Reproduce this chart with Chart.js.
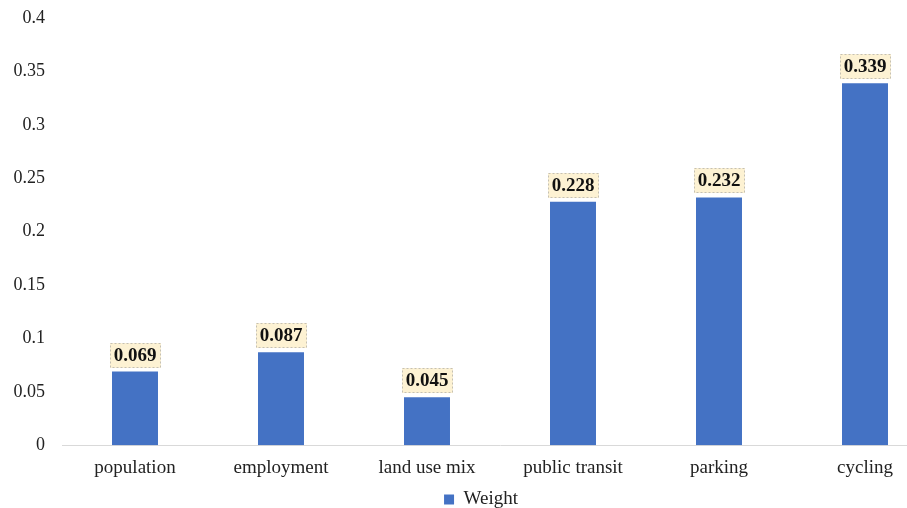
<!DOCTYPE html>
<html lang="en">
<head>
    <meta charset="UTF-8">
    <title>Weight Chart</title>
    <script src="https://cdn.jsdelivr.net/npm/chart.js"></script>
    <style>
        html, body { margin: 0; padding: 0; background: #fff; overflow: hidden; }
        #wrap { width: 960px; height: 508px; }
    </style>
</head>
<body>
    <div id="wrap">
        <canvas id="weightChart" width="960" height="508"></canvas>
    </div>

    <script>
        // data
        const categories = ['population', 'employment', 'land use mix', 'public transit', 'parking', 'cycling'];
        const weights = [0.069, 0.087, 0.045, 0.228, 0.232, 0.339];
        const seriesName = 'Weight';

        const serif = "'Liberation Serif', 'Times New Roman', serif";

        // boxed value labels above each bar
        const valueBoxes = {
            id: 'valueBoxes',
            beforeDraw(chart) {
                // nudge the legend a bit to the right, like the original
                const lg = chart.legend;
                if (lg && !lg._nudged) {
                    const orig = lg.draw.bind(lg);
                    lg.draw = function(area) {
                        chart.ctx.save();
                        chart.ctx.translate(12, 0);
                        orig(area);
                        chart.ctx.restore();
                    };
                    lg._nudged = true;
                }
            },
            afterDatasetsDraw(chart) {
                const ctx = chart.ctx;
                const meta = chart.getDatasetMeta(0);
                ctx.save();
                ctx.font = 'bold 19px ' + serif;
                ctx.textAlign = 'center';
                ctx.textBaseline = 'middle';
                meta.data.forEach(function(bar, i) {
                    const txt = weights[i].toFixed(3);
                    const w = Math.round(ctx.measureText(txt).width) + 8;
                    const h = 25;
                    const x = Math.round(bar.x - w / 2);
                    const y = Math.round(bar.y) - 4 - h;
                    ctx.fillStyle = '#fdf2d3';
                    ctx.fillRect(x, y, w, h);
                    ctx.setLineDash([2, 2]);
                    ctx.strokeStyle = '#c4c0b4';
                    ctx.lineWidth = 1;
                    ctx.strokeRect(x + 0.5, y + 0.5, w - 1, h - 1);
                    ctx.fillStyle = '#111';
                    ctx.fillText(txt, bar.x, y + h / 2 + 1);
                });
                ctx.restore();
            }
        };

        const ctx = document.getElementById('weightChart').getContext('2d');
        const chart = new Chart(ctx, {
            type: 'bar',
            data: {
                labels: categories,
                datasets: [{
                    label: seriesName,
                    data: weights,
                    backgroundColor: '#4472c4',
                    borderWidth: 0,
                    barPercentage: 0.315,
                    categoryPercentage: 1.0
                }]
            },
            options: {
                responsive: false,
                animation: false,
                layout: { padding: { top: 18, right: 22, bottom: -11, left: 0 } },
                plugins: {
                    legend: {
                        position: 'bottom',
                        labels: {
                            boxWidth: 10,
                            boxHeight: 10,
                            padding: 0,
                            color: '#222',
                            font: { family: serif, size: 19 }
                        }
                    },
                    tooltip: { enabled: false }
                },
                scales: {
                    x: {
                        grid: { display: false, drawTicks: false },
                        border: { display: true, color: '#d9d9d9', width: 1 },
                        ticks: {
                            color: '#222',
                            padding: 11,
                            maxRotation: 0,
                            font: { family: serif, size: 19 }
                        }
                    },
                    y: {
                        min: 0,
                        max: 0.4,
                        afterFit(axis) {
                            axis.width = 62;
                            axis.paddingTop = 0;
                            axis.paddingBottom = 0;
                        },
                        grid: { display: false, drawTicks: false },
                        border: { display: false },
                        ticks: {
                            stepSize: 0.05,
                            padding: 17,
                            color: '#222',
                            font: { family: serif, size: 18 },
                            callback: function(v) { return +v.toFixed(2); }
                        }
                    }
                }
            },
            plugins: [valueBoxes]
        });
    </script>
</body>
</html>
